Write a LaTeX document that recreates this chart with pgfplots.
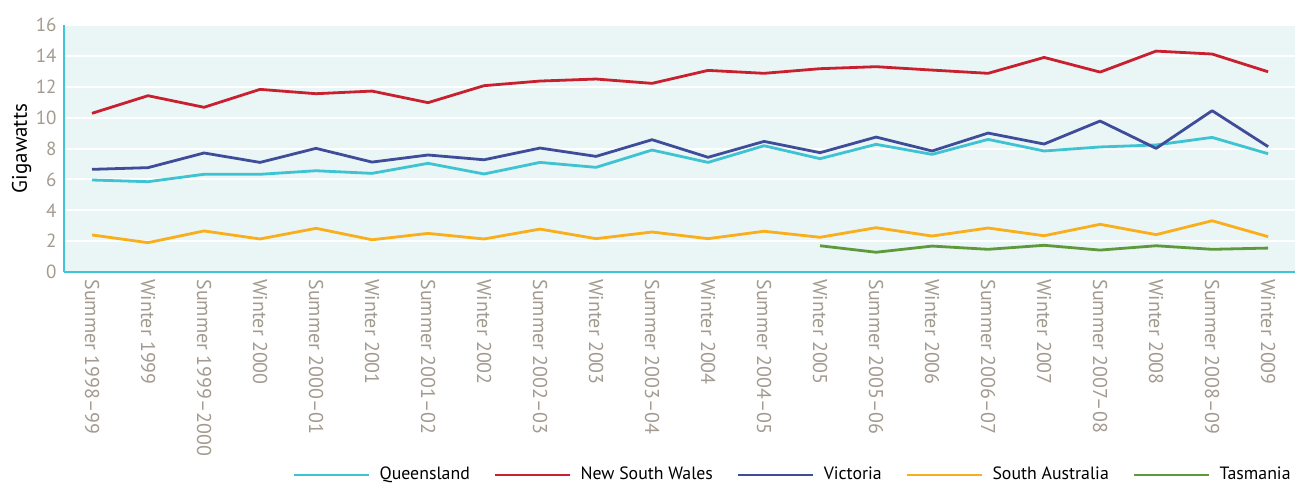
\documentclass[border=0pt]{standalone}
\usepackage{pgfplots}
\pgfplotsset{compat=1.18}
\usepackage{fontspec}
\setmainfont{PT Sans}
\definecolor{bgc}{HTML}{EAF5F5}
\definecolor{axc}{HTML}{40C4D8}
\definecolor{tickc}{HTML}{A39A90}
\definecolor{qld}{HTML}{3EC3D3}
\definecolor{nsw}{HTML}{C8202F}
\definecolor{vic}{HTML}{3F4C9A}
\definecolor{sa}{HTML}{F9AE1B}
\definecolor{tas}{HTML}{5E9A3C}
\pgfplotstableread{
x qld nsw vic sa
0 5.96 10.28 6.65 2.40
1 5.85 11.42 6.76 1.90
2 6.33 10.67 7.71 2.66
3 6.33 11.83 7.10 2.14
4 6.56 11.55 8.01 2.83
5 6.39 11.72 7.12 2.09
6 7.04 10.97 7.58 2.50
7 6.35 12.07 7.27 2.14
8 7.10 12.37 8.03 2.78
9 6.78 12.50 7.49 2.16
10 7.90 12.22 8.57 2.59
11 7.10 13.06 7.43 2.16
12 8.18 12.87 8.46 2.64
13 7.34 13.17 7.73 2.25
14 8.27 13.30 8.74 2.87
15 7.62 13.08 7.84 2.33
16 8.59 12.87 9.00 2.85
17 7.84 13.90 8.29 2.35
18 8.10 12.95 9.78 3.09
19 8.23 14.31 8.01 2.42
20 8.72 14.12 10.45 3.32
21 7.66 12.97 8.12 2.29
}\main
\pgfplotstableread{
x tas
13 1.70
14 1.28
15 1.68
16 1.47
17 1.73
18 1.42
19 1.70
20 1.47
21 1.55
}\tas
\begin{document}
\begin{tikzpicture}
\begin{axis}[
  name=ax,
  width=615.5pt, height=123.5pt,
  scale only axis,
  xmin=-0.5, xmax=21.48,
  ymin=0, ymax=16,
  ytick={0,2,...,16},
  xtick={0,...,21},
  xticklabels={Summer 1998--99,Winter 1999,Summer 1999--2000,Winter 2000,Summer 2000--01,Winter 2001,Summer 2001--02,Winter 2002,Summer 2002--03,Winter 2003,Summer 2003--04,Winter 2004,Summer 2004--05,Winter 2005,Summer 2005--06,Winter 2006,Summer 2006--07,Winter 2007,Summer 2007--08,Winter 2008,Summer 2008--09,Winter 2009},
  x tick label style={rotate=-90, anchor=west, font=\fontsize{10}{11}\selectfont, text=tickc, inner sep=0pt, xshift=3.5pt},
  y tick label style={font=\fontsize{9.5}{10}\selectfont, text=tickc, inner sep=0pt, xshift=-3.5pt},
  /pgf/number format/assume math mode=true,
  major tick length=0pt,
  axis line style={draw=axc, line width=0.8pt},
  axis x line*=bottom, axis y line*=left,
  separate axis lines,
  x axis line style={-}, y axis line style={-},
  axis background/.style={fill=bgc},
  ymajorgrids, grid style={white, line width=1pt},
  ylabel={Gigawatts},
  ylabel style={font=\fontsize{10.5}{11}\selectfont, black, at={(axis description cs:-0.0345,0.5)}, anchor=center},
  legend columns=5,
  legend style={draw=none, fill=none, inner sep=0pt, at={(axis description cs:1.0,-0.822)}, anchor=east,
    font=\fontsize{8.9}{10}\selectfont,
    /tikz/every odd column/.append style={column sep=2.5pt},
    /tikz/every even column/.append style={column sep=10pt}},
  legend image code/.code={\draw[#1, line width=1.4pt] (0pt,0pt) -- (37.5pt,0pt);},
  every axis plot/.append style={line width=1.4pt, line join=round},
  clip=false,
]
\addplot[qld, no markers] table[x=x, y=qld] {\main};
\addlegendentry{Queensland}
\addplot[nsw, no markers] table[x=x, y=nsw] {\main};
\addlegendentry{New South Wales}
\addplot[vic, no markers] table[x=x, y=vic] {\main};
\addlegendentry{Victoria}
\addplot[sa, no markers] table[x=x, y=sa] {\main};
\addlegendentry{South Australia}
\addplot[tas, no markers] table[x=x, y=tas] {\tas};
\addlegendentry{Tasmania}
\end{axis}
\pgfresetboundingbox
\path ([xshift=-32pt,yshift=-105.5pt]ax.south west) rectangle ([yshift=12.5pt]ax.north east);
\end{tikzpicture}
\end{document}
